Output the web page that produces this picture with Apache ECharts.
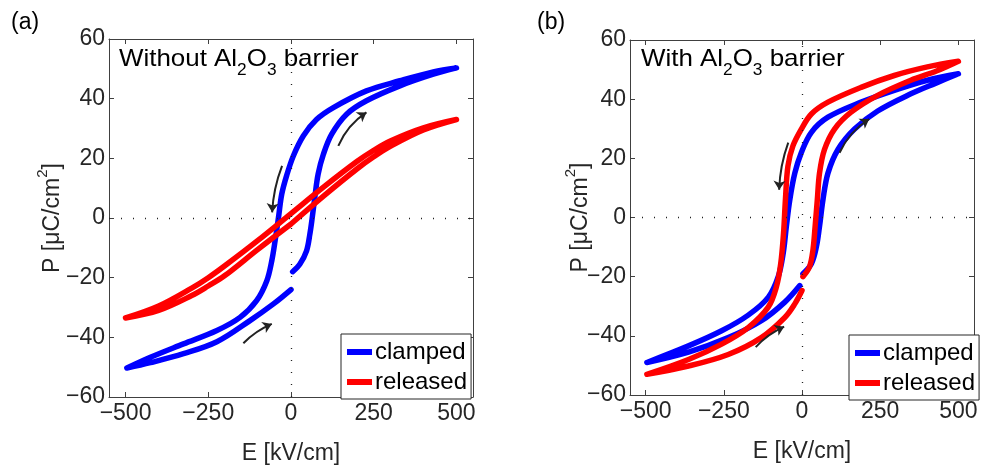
<!DOCTYPE html>
<html>
<head>
<meta charset="utf-8">
<script src="https://cdn.jsdelivr.net/npm/echarts@6.0.0/dist/echarts.min.js"></script>
<style>
html, body { margin: 0; padding: 0; background: #fff; }
#main { width: 985px; height: 465px; }
</style>
</head>
<body>
<div id="main"></div>
<script>
// tick labels
var eTicks = [-500, -250, 0, 250, 500];
var pTicks = [-60, -40, -20, 0, 20, 40, 60];

// (a) without Al2O3 barrier : [E kV/cm, P uC/cm2], loop starts at E=0 going up
var clampedA = [
    [5, -18], [27, -15.4], [47, -11], [57, -5.4], [64, 0], [72, 6.9], [82, 14.7], [98, 21.4],
    [123, 28.1], [168, 34.8], [228, 39.3], [329, 44.3], [430, 48.2], [500, 50.3],
    [430, 49], [329, 46], [228, 42.6], [128, 37], [77, 33], [37, 27.5], [7, 20.8], [-13, 14.3],
    [-28, 8], [-38, 0], [-48, -7.6], [-58, -14.3], [-73, -21], [-104, -27.7], [-154, -33.3],
    [-224, -37.7], [-325, -42.2], [-425, -46.7], [-496, -50.3],
    [-425, -48.5], [-325, -45.5], [-224, -41.5], [-124, -34.4], [-53, -28.8], [0, -24]
];
var releasedA = [
    [0, -2], [100, 7.5], [200, 16.5], [250, 20.5], [300, 24], [400, 29.5], [500, 33],
    [400, 30.2], [300, 25.8], [250, 22.7], [200, 19], [100, 10.5], [0, 1.5], [-100, -7.5],
    [-200, -16], [-250, -20], [-300, -23.5], [-400, -29.5], [-500, -33.5],
    [-400, -31], [-300, -26], [-250, -22.8], [-200, -19.3], [-100, -10.5], [0, -2]
];

// (b) with Al2O3 barrier
var clampedB = [
    [3, -19], [30, -15.6], [46, -9.9], [56, -3], [67, 6], [83, 15], [115, 23], [168, 29.9],
    [242, 36], [348, 41.8], [430, 45.5], [500, 48.6],
    [401, 46.4], [295, 43], [189, 39], [83, 33.9], [30, 28.8], [-2, 22], [-23, 15], [-39, 6],
    [-50, -3], [-60, -12], [-76, -20], [-108, -27], [-172, -33], [-257, -38.3], [-363, -43.4], [-496, -49],
    [-363, -45.5], [-236, -40.6], [-130, -34.9], [-55, -28.6], [-7, -23]
];
var releasedB = [
    [3, -20], [24, -16.7], [35, -11], [42, -3], [49, 6], [56, 15], [72, 23], [104, 29.9],
    [157, 35.6], [242, 41.3], [348, 46.4], [430, 49.5], [500, 52.8],
    [401, 50.9], [295, 48], [189, 44], [83, 39], [30, 35], [-2, 29.9], [-29, 24.2], [-45, 17.4],
    [-53, 6], [-59, -5.3], [-68, -15.6], [-82, -23.5], [-108, -30.3], [-172, -37.2], [-257, -42.8],
    [-363, -48], [-496, -53],
    [-363, -50.2], [-236, -46.3], [-130, -40.6], [-55, -33.8], [-23, -29.2], [0, -24.7]
];

// sweep direction arrows [from, to, curveness]
var arrowsA = [[[-27, 17.5], [-57, 1.9], -0.08], [[143, 24.2], [228, 35.4], 0.15], [[-144, -42], [-58, -35.5], 0.1]];
var arrowsB = [[[-44, 25.3], [-73, 9.4], -0.08], [[120, 21.9], [215, 33.3], 0.15], [[-148, -43.8], [-57, -36.9], 0.1]];

var FONT = '"Liberation Sans", Arial, sans-serif';
var AX = '#404040';
var TXT = '#262626';

var myChart = echarts.init(document.getElementById('main'));

function minus(v) {
    return String(v).replace('-', '\u2212');
}

function xAx(g, pos) {
    var main = pos === 'bottom';
    return {
        gridIndex: g, type: 'value', position: pos, min: -550, max: 550,
        axisLine: { onZero: false, lineStyle: { color: AX, width: 1 } },
        axisTick: { inside: true, length: 5, customValues: eTicks, lineStyle: { color: AX } },
        axisLabel: { show: main, customValues: eTicks, formatter: minus, fontSize: 23, color: TXT, fontFamily: FONT, margin: 5 },
        splitLine: { show: false },
        name: main ? 'E [kV/cm]' : '', nameLocation: 'middle', nameGap: 45, nameMoveOverlap: false,
        nameTextStyle: { fontSize: 23, color: TXT, fontFamily: FONT }
    };
}

function yAx(g, pos, gap) {
    var main = pos === 'left';
    return {
        gridIndex: g, type: 'value', position: pos, min: -60, max: 60, interval: 20,
        axisLine: { onZero: false, lineStyle: { color: AX, width: 1 } },
        axisTick: { inside: true, length: 5, lineStyle: { color: AX } },
        axisLabel: { show: main, formatter: minus, fontSize: 23, color: TXT, fontFamily: FONT, margin: 4 },
        splitLine: { show: false },
        name: main ? 'P [\u03bcC/cm{sup|2}]' : '', nameLocation: 'middle', nameGap: gap, nameRotate: 90,
        nameMoveOverlap: false,
        nameTextStyle: {
            fontSize: 23, color: TXT, fontFamily: FONT, lineHeight: 36, verticalAlign: 'bottom',
            rich: { sup: { fontSize: 15, color: TXT, fontFamily: FONT, lineHeight: 12, verticalAlign: 'top' } }
        }
    };
}

function loop(name, data, g, color) {
    return {
        name: name, type: 'line', xAxisIndex: g * 2, yAxisIndex: g * 2, data: data,
        showSymbol: false, smooth: 0.35, z: 3, silent: true,
        lineStyle: { color: color, width: 5.5, cap: 'round', join: 'round' },
        itemStyle: { color: color }
    };
}

// dotted zero lines
function zeros(g) {
    return {
        type: 'line', xAxisIndex: g * 2, yAxisIndex: g * 2, data: [], z: 1, silent: true,
        markLine: {
            silent: true, animation: false, symbol: ['none', 'none'], label: { show: false },
            lineStyle: { type: [1, 11], color: '#222', width: 1.3 },
            data: [{ xAxis: 0 }, { yAxis: 0 }]
        }
    };
}

// curved arrows, one lines series per arrow so each keeps its own bend
function arrows(g, list) {
    return list.map(function (a) {
        return {
            type: 'lines', coordinateSystem: 'cartesian2d', xAxisIndex: g * 2, yAxisIndex: g * 2,
            z: 4, silent: true, symbol: ['none', 'arrow'], symbolSize: 9,
            lineStyle: { color: '#222', width: 2, opacity: 1, curveness: a[2] },
            data: [{ coords: [a[0], a[1]] }]
        };
    });
}

function legendBox(left, top) {
    return {
        left: left, top: top, orient: 'vertical', data: ['clamped', 'released'],
        icon: 'rect', itemWidth: 25, itemHeight: 6, itemGap: 6, selectedMode: false,
        textStyle: { fontSize: 24, color: '#000', fontFamily: FONT, padding: [0, 0, 0, -2] },
        borderColor: '#262626', borderWidth: 1, borderRadius: 0, backgroundColor: '#fff',
        padding: [6, 4, 5, 6]
    };
}

var subRich = {
    s: { fontSize: 16, fontWeight: 'normal', fill: '#000', fontFamily: FONT, lineHeight: 32, verticalAlign: 'bottom' },
    m: { fontSize: 24, fontWeight: 'normal', fill: '#000', fontFamily: FONT, lineHeight: 24, verticalAlign: 'top' }
};

function panelText(x, y, text) {
    return { type: 'text', left: x, top: y, scaleX: 1.08, z: 10, style: { text: text, rich: subRich } };
}

myChart.setOption({
    animation: false,
    title: [
        { text: '(a)', left: 6, top: 6, textStyle: { fontSize: 23, fontWeight: 'normal', color: '#000', fontFamily: FONT } },
        { text: '(b)', left: 532, top: 6, textStyle: { fontSize: 23, fontWeight: 'normal', color: '#000', fontFamily: FONT } }
    ],
    graphic: [
        panelText(119, 47, '{m|Without Al}{s|2}{m|O}{s|3}{m| barrier}'),
        panelText(641, 47, '{m|With Al}{s|2}{m|O}{s|3}{m| barrier}')
    ],
    grid: [
        { left: 109, top: 39, width: 364, height: 358, outerBoundsMode: 'none' },
        { left: 630, top: 40, width: 344, height: 355, outerBoundsMode: 'none' }
    ],
    xAxis: [xAx(0, 'bottom'), xAx(0, 'top'), xAx(1, 'bottom'), xAx(1, 'top')],
    yAxis: [yAx(0, 'left', 38), yAx(0, 'right', 0), yAx(1, 'left', 31), yAx(1, 'right', 0)],
    legend: [legendBox(341, 334), legendBox(849, 335)],
    series: [
        zeros(0),
        loop('clamped', clampedA, 0, '#0000ff'),
        loop('released', releasedA, 0, '#ff0000'),
        zeros(1),
        loop('clamped', clampedB, 1, '#0000ff'),
        loop('released', releasedB, 1, '#ff0000')
    ].concat(arrows(0, arrowsA), arrows(1, arrowsB))
});
</script>
</body>
</html>
